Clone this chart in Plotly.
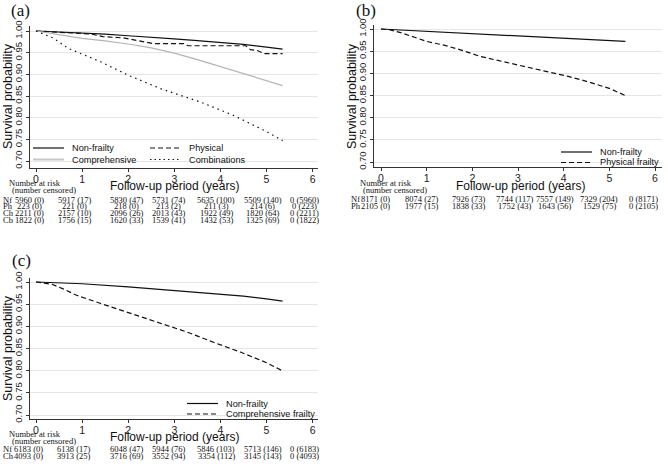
import plotly.graph_objects as go

W, H = 668, 467

# ---------------- data ----------------
years = [0, 1, 2, 3, 4, 5, 6]
y_ticks = [0.70, 0.75, 0.80, 0.85, 0.90, 0.95, 1.00]

# panel (a)
a_nf_t = [0, 0.5, 1, 1.5, 2, 2.5, 3, 3.5, 4, 4.5, 5, 5.35]
a_nf_s = [1, 0.998, 0.996, 0.993, 0.989, 0.986, 0.982, 0.978, 0.974, 0.969, 0.963, 0.958]
a_ph_t = [0, 0.4, 0.8, 1.2, 1.45, 1.9, 2.2, 2.55, 3.2, 3.3, 4.55, 4.65, 4.8, 4.95, 5.35]
a_ph_s = [1, 0.998, 0.995, 0.993, 0.987, 0.984, 0.978, 0.971, 0.971, 0.966, 0.966, 0.957, 0.955, 0.948, 0.948]
a_ch_t = [0, 0.5, 1, 1.5, 2, 2.5, 3, 3.5, 4, 4.5, 5, 5.35]
a_ch_s = [1, 0.991, 0.983, 0.977, 0.970, 0.961, 0.949, 0.934, 0.918, 0.901, 0.886, 0.874]
a_cb_t = [0, 0.37, 0.7, 1.0, 1.4, 2.0, 2.7, 3.57, 4.29, 5.0, 5.35]
a_cb_s = [1, 0.984, 0.960, 0.946, 0.929, 0.898, 0.867, 0.836, 0.805, 0.768, 0.747]

# panel (b)
b_nf_t = [0, 1, 2, 3, 4, 5, 5.35]
b_nf_s = [1, 0.995, 0.990, 0.985, 0.980, 0.975, 0.972]
b_ph_t = [0, 0.2, 0.43, 0.7, 1.0, 1.4, 1.74, 2.18, 2.6, 3.05, 3.62, 4.1, 4.5, 5.0, 5.35]
b_ph_s = [1, 0.998, 0.992, 0.982, 0.972, 0.963, 0.953, 0.938, 0.928, 0.919, 0.904, 0.893, 0.882, 0.866, 0.850]

# panel (c)
c_nf_t = [0, 1, 2, 3, 4, 4.5, 5, 5.35]
c_nf_s = [1, 0.996, 0.989, 0.981, 0.973, 0.968, 0.962, 0.957]
c_ch_t = [0, 0.34, 0.6, 0.88, 1.39, 1.97, 2.62, 3.28, 3.85, 4.43, 5.0, 5.34]
c_ch_s = [1, 0.995, 0.984, 0.970, 0.952, 0.932, 0.910, 0.887, 0.864, 0.842, 0.818, 0.800]

# number at risk tables
a_rows = ["Nf", "Ph", "Ch", "Cb"]
a_table = [
    ["5960 (0)", "5917 (17)", "5830 (47)", "5731 (74)", "5635 (100)", "5509 (140)", "0 (5960)"],
    ["223 (0)", "221 (0)", "218 (0)", "213 (2)", "211 (3)", "214 (6)", "0 (223)"],
    ["2211 (0)", "2157 (10)", "2096 (26)", "2013 (43)", "1922 (49)", "1820 (64)", "0 (2211)"],
    ["1822 (0)", "1756 (15)", "1620 (33)", "1539 (41)", "1432 (53)", "1325 (69)", "0 (1822)"],
]
b_rows = ["Nf", "Ph"]
b_table = [
    ["8171 (0)", "8074 (27)", "7926 (73)", "7744 (117)", "7557 (149)", "7329 (204)", "0 (8171)"],
    ["2105 (0)", "1977 (15)", "1838 (33)", "1752 (43)", "1643 (56)", "1529 (75)", "0 (2105)"],
]
c_rows = ["Nf", "Ch"]
c_table = [
    ["6183 (0)", "6138 (17)", "6048 (47)", "5944 (76)", "5846 (103)", "5713 (146)", "0 (6183)"],
    ["4093 (0)", "3913 (25)", "3716 (69)", "3552 (94)", "3354 (112)", "3145 (143)", "0 (4093)"],
]

# ---------------- helpers ----------------
def px(x):
    return x / W

def py(y):
    return 1 - y / H

SANS = "Liberation Sans, Arial, sans-serif"
SERIF = "Liberation Serif, Times New Roman, serif"
BLACK = "#111111"
GRAY = "#b4b4b4"

fig = go.Figure()

def add_line(t, s, xa, ya, dash, color=BLACK, width=1.2, name=""):
    fig.add_trace(go.Scatter(x=t, y=s, xaxis=xa, yaxis=ya, mode="lines", name=name,
                             line=dict(color=color, width=width, dash=dash),
                             showlegend=False, hoverinfo="skip"))

add_line(a_nf_t, a_nf_s, "x", "y", "solid", name="Non-frailty")
add_line(a_ph_t, a_ph_s, "x", "y", "5px,3px", name="Physical")
add_line(a_ch_t, a_ch_s, "x", "y", "solid", color=GRAY, name="Comprehensive")
add_line(a_cb_t, a_cb_s, "x", "y", "1.5px,4px", name="Combinations")

add_line(b_nf_t, b_nf_s, "x2", "y2", "solid", name="Non-frailty")
add_line(b_ph_t, b_ph_s, "x2", "y2", "5px,3px", name="Physical frailty")

add_line(c_nf_t, c_nf_s, "x3", "y3", "solid", name="Non-frailty")
add_line(c_ch_t, c_ch_s, "x3", "y3", "5px,3px", name="Comprehensive frailty")

def xaxis_cfg(left, right, x0px, pxyr):
    return dict(domain=[px(left), px(right)],
                range=[(left - x0px) / pxyr, (right - x0px) / pxyr],
                tickvals=years, ticktext=[str(v) for v in years],
                showgrid=False, zeroline=False, showline=True, linecolor="#333333", linewidth=1,
                ticks="outside", ticklen=3, tickcolor="#333333",
                tickfont=dict(family=SANS, size=10.5, color="#222222"),
                ticklabelstandoff=-2, fixedrange=True, automargin=False)

def yaxis_cfg(top, bottom, y100, y070, anchor):
    per = (y070 - y100) / 0.30
    return dict(domain=[py(bottom), py(top)],
                range=[0.70 - (bottom - y070) / per, 1.00 + (y100 - top) / per],
                tickvals=y_ticks, ticktext=["%.2f" % v for v in y_ticks],
                tickangle=-90, showgrid=True, gridcolor="#e6e6e6", gridwidth=1,
                zeroline=False, showline=True, linecolor="#333333", linewidth=1,
                ticks="outside", ticklen=3, tickcolor="#333333",
                tickfont=dict(family=SANS, size=9.5, color="#222222"),
                anchor=anchor, fixedrange=True, automargin=False)

fig.update_layout(
    width=W, height=H, margin=dict(l=0, r=0, t=0, b=0, autoexpand=False),
    paper_bgcolor="white", plot_bgcolor="white", showlegend=False,
    xaxis=dict(xaxis_cfg(30, 318, 36, 46.1), anchor="y"),
    yaxis=yaxis_cfg(26, 168, 31, 161, "x"),
    xaxis2=dict(xaxis_cfg(374, 662, 381, 45.67), anchor="y2"),
    yaxis2=yaxis_cfg(25, 167, 29, 162, "x2"),
    xaxis3=dict(xaxis_cfg(30, 318, 36, 46.1), anchor="y3"),
    yaxis3=yaxis_cfg(278, 419, 282, 415, "x3"),
)

ann = []
shapes = []

def text(x, y, s, size, family=SANS, xanchor="center", angle=0, color="#111111"):
    ann.append(dict(x=px(x), y=py(y), xref="paper", yref="paper", text=s, showarrow=False,
                    xanchor=xanchor, yanchor="middle", textangle=angle,
                    font=dict(family=family, size=size, color=color)))

def legend_item(x0, y, label, dash, color=BLACK, width=1.2):
    shapes.append(dict(type="line", xref="paper", yref="paper", x0=px(x0), x1=px(x0 + 31),
                       y0=py(y), y1=py(y), line=dict(color=color, width=width, dash=dash)))
    text(x0 + 37, y, label, 9.2, xanchor="left")

# panel labels
text(20, 11, "(a)", 17, family=SERIF)
text(366, 11, "(b)", 17, family=SERIF)
text(21, 260, "(c)", 17, family=SERIF)

# y titles
text(8, 96, "Survival probability", 12.5, angle=-90)
text(352, 96, "Survival probability", 12.5, angle=-90)
text(8, 348, "Survival probability", 12.5, angle=-90)

# x titles
text(174, 185.5, "Follow-up period (years)", 12)
text(520, 185.5, "Follow-up period (years)", 12)
text(174, 436.5, "Follow-up period (years)", 12)

# legends
legend_item(33, 148, "Non-frailty", "solid")
legend_item(150, 148, "Physical", "5px,3px")
legend_item(33, 159.5, "Comprehensive", "solid", color="#c8c8c8", width=2)
legend_item(150, 159.5, "Combinations", "1.5px,3px")

legend_item(561, 152, "Non-frailty", "solid")
legend_item(561, 162.5, "Physical frailty", "5px,3px")

legend_item(187, 403.5, "Non-frailty", "solid")
legend_item(187, 414, "Comprehensive frailty", "5px,3px")

# risk tables
TBL = 8.5

def risk_table(xref, rows, table, head_x, head_y, row_y, lab_x, offsets):
    text(head_x, head_y, "Number at risk", TBL, family=SERIF)
    text(head_x + 9, head_y + 7, "(number censored)", TBL, family=SERIF)
    for r, (lab, vals) in enumerate(zip(rows, table)):
        yy = row_y + r * 6.8
        text(lab_x, yy, lab, TBL, family=SERIF, xanchor="left")
        for c, v in enumerate(vals):
            ann.append(dict(x=years[c], y=py(yy), xref=xref, yref="paper", text=v, showarrow=False,
                            xanchor="center", yanchor="middle", xshift=offsets[c],
                            font=dict(family=SERIF, size=TBL, color="#111111")))

risk_table("x", a_rows, a_table, 35, 183, 199.6, 1, [-7, -8, -2, -6, -4, -4, -8])
risk_table("x2", b_rows, b_table, 386, 183, 199.4, 349, [-6, -5, -4, -4, -9, -10, -12])
risk_table("x3", c_rows, c_table, 35, 433.5, 449.4, 1, [-8, -9, -2, -6, -4, -4, -8])

fig.update_layout(annotations=ann, shapes=shapes)
fig.write_html("out.html", config={"displayModeBar": False},
               post_script="document.body.style.margin='0';document.body.style.overflow='hidden';")
